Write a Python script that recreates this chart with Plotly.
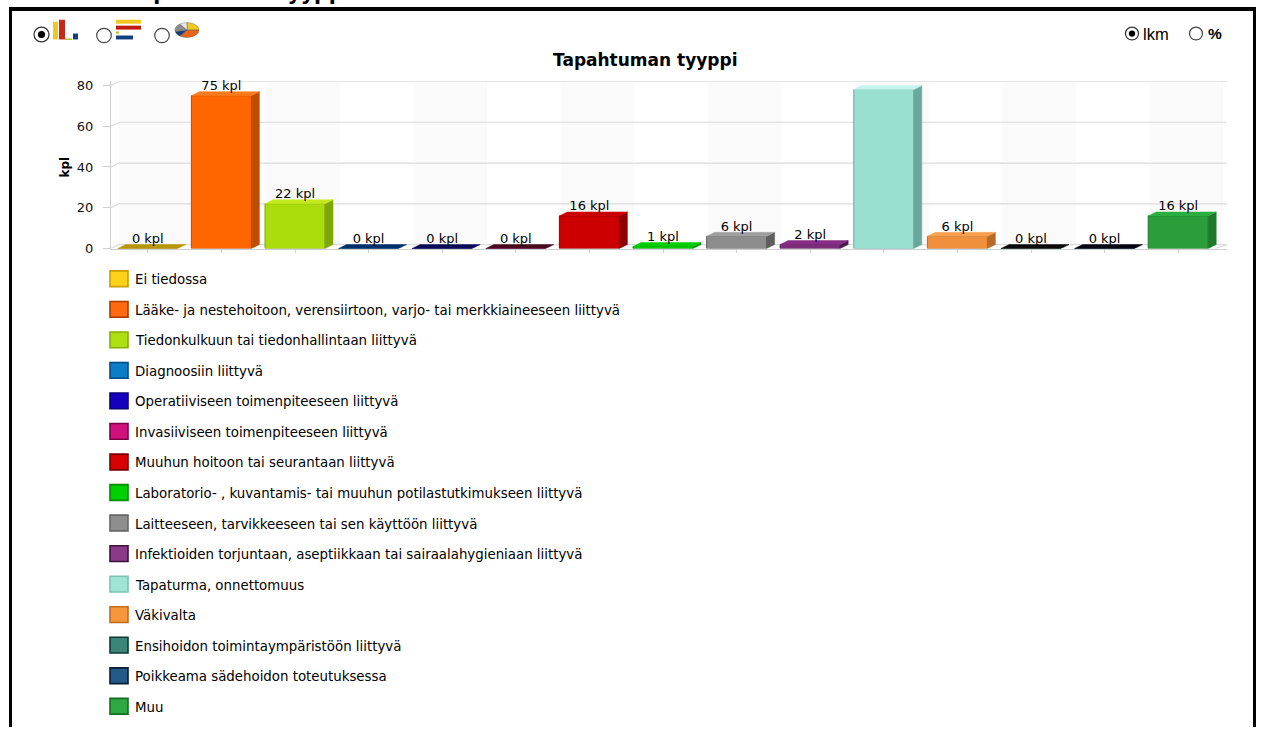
import math
import plotly.graph_objects as go

# ---------- data ----------
categories = [
    "Ei tiedossa",
    "Lääke- ja nestehoitoon, verensiirtoon, varjo- tai merkkiaineeseen liittyvä",
    "Tiedonkulkuun tai tiedonhallintaan liittyvä",
    "Diagnoosiin liittyvä",
    "Operatiiviseen toimenpiteeseen liittyvä",
    "Invasiiviseen toimenpiteeseen liittyvä",
    "Muuhun hoitoon tai seurantaan liittyvä",
    "Laboratorio- , kuvantamis- tai muuhun potilastutkimukseen liittyvä",
    "Laitteeseen, tarvikkeeseen tai sen käyttöön liittyvä",
    "Infektioiden torjuntaan, aseptiikkaan tai sairaalahygieniaan liittyvä",
    "Tapaturma, onnettomuus",
    "Väkivalta",
    "Ensihoidon toimintaympäristöön liittyvä",
    "Poikkeama sädehoidon toteutuksessa",
    "Muu",
]
values = [0, 75, 22, 0, 0, 0, 16, 1, 6, 2, 78, 6, 0, 0, 16]
y_ticks = [0, 20, 40, 60, 80]
unit = "kpl"
title = "Tapahtuman tyyppi"

# ---------- styles ----------
front_colors = ["#FFCC00", "#FF6600", "#AADD0B", "#0070C0", "#1100BB", "#C00070", "#CC0000", "#00CC00",
                "#8C8C8C", "#7B2C7B", "#99E0D0", "#F0903C", "#2F7A6E", "#1F4E7A", "#2B9E3B"]
side_colors = ["#B8960C", "#BF4D00", "#7FA608", "#00447A", "#0A0070", "#700042", "#8F0000", "#009000",
               "#5E5E5E", "#4A1A4A", "#6BA89C", "#B86A28", "#103028", "#08182A", "#1C7A2A"]
top_colors = ["#B8960C", "#FF7A1A", "#C4E81E", "#00306A", "#0A0A55", "#4A0A1E", "#CC0000", "#00CC00",
              "#A0A0A0", "#8A2D86", "#C4F5EC", "#F7A050", "#0A0A0A", "#050510", "#2BAE40"]
swatch_edges = ["#C9A000", "#A83A00", "#86AE06", "#004A85", "#0A0075", "#7A0048", "#7A0000", "#008A00",
                "#666666", "#3E123E", "#7CC4B4", "#C06C20", "#0E3A34", "#0A1C36", "#126E22"]
swatch_fills = ["#FFD21A", "#FF6A10", "#AEDF10", "#0A7CC8", "#1500C0", "#D0107C", "#D80000", "#00D000",
                "#8E8E8E", "#8A3A86", "#A0E4D6", "#F8963E", "#3A8478", "#245A88", "#2EA840"]
FONT = "DejaVu Sans"
W, H = 1262, 730
GRID = "#DCDCDC"
BAND = "#FAFAFA"

# ---------- geometry ----------
X0, X1 = 111, 1227          # plot width in pixels
Y_BASE, PX_PER_UNIT = 249.3, 2.07
Y_MAX = 82
CAT_PX = 73.6
x_max = -0.5 + (X1 - X0) / CAT_PX
DX = 8 / CAT_PX             # 3D depth in x data units
DY = 4 / PX_PER_UNIT        # 3D depth in y data units
BAR_W = 60 / CAT_PX


def px(x):
    return x / W


def py(y):
    return 1 - y / H


shapes, annotations = [], []


def rect(x0, y0, x1, y1, fill, line=None, lw=0):
    shapes.append(dict(type="rect", xref="paper", yref="paper", x0=px(x0), x1=px(x1), y0=py(y0), y1=py(y1),
                       fillcolor=fill, line=dict(color=line or fill, width=lw), layer="above"))


def circle(cx, cy, r, fill, line, lw=1.2):
    shapes.append(dict(type="circle", xref="paper", yref="paper", x0=px(cx - r), x1=px(cx + r),
                       y0=py(cy + r), y1=py(cy - r), fillcolor=fill, line=dict(color=line, width=lw), layer="above"))


def text(x, y, s, size, anchor="left", bold=False, family=FONT, angle=0, color="#000000"):
    annotations.append(dict(xref="paper", yref="paper", x=px(x), y=py(y), text=f"<b>{s}</b>" if bold else s,
                            showarrow=False, xanchor=anchor, yanchor="middle", textangle=angle,
                            font=dict(family=family, size=size, color=color)))


# alternate background bands on the back wall
for i in range(0, len(categories), 2):
    shapes.append(dict(type="rect", xref="x", yref="y", x0=i - 0.5 + DX, x1=min(i + 0.5 + DX, x_max),
                       y0=DY, y1=Y_MAX, fillcolor=BAND, line=dict(width=0), layer="below"))
# grid lines on the back wall, with the slanted part at the left wall
for t in y_ticks:
    shapes.append(dict(type="path", xref="x", yref="y", layer="below", line=dict(color=GRID, width=1.2),
                       path=f"M -0.5 {t} L {-0.5 + DX} {t + DY} L {x_max} {t + DY}"))
shapes.append(dict(type="line", xref="x", yref="y", x0=14.5, x1=x_max, y0=0, y1=DY, layer="below",
                   line=dict(color=GRID, width=1.2)))

fig = go.Figure()
fig.add_trace(go.Bar(
    x=list(range(len(values))), y=values, width=BAR_W,
    marker=dict(color=front_colors, line=dict(color=side_colors, width=1)),
    hovertext=categories, hoverinfo="text+y", showlegend=False,
))

for i, v in enumerate(values):
    left, right = i - BAR_W / 2, i + BAR_W / 2
    if v > 0:
        fig.add_trace(go.Scatter(
            x=[right, right + DX, right + DX, right, right], y=[0, DY, v + DY, v, 0],
            mode="lines", fill="toself", fillcolor=side_colors[i], line=dict(color=side_colors[i], width=0.5),
            hoverinfo="skip", showlegend=False))
    fig.add_trace(go.Scatter(
        x=[left, right, right + DX, left + DX, left], y=[v, v, v + DY, v + DY, v],
        mode="lines", fill="toself", fillcolor=top_colors[i], line=dict(color=top_colors[i], width=0.5),
        hoverinfo="skip", showlegend=False))

fig.add_trace(go.Scatter(
    x=list(range(len(values))), y=[v + DY + 5 / PX_PER_UNIT for v in values],
    mode="text", text=[f"{v} {unit}" for v in values], textposition="middle center",
    textfont=dict(family=FONT, size=13, color="#000000"), hoverinfo="skip", showlegend=False, cliponaxis=False))

# legend rows
for i, name in enumerate(categories):
    yc = 280 + 31 * i
    rect(110, yc - 8, 128, yc + 8, swatch_fills[i], swatch_edges[i], 1.6)
    text(132.5, yc + 1, name, 13.35)

# frame and the cropped heading above it
rect(9, 4, 12, H + 5, "#000000")
rect(9, 4, 1256, 8, "#000000")
rect(1253, 4, 1256, H + 5, "#000000")
text(126, -10, title, 20.5, bold=True, color="#000000")

# chart title and axis title
text(645, 58, title, 17, anchor="center", bold=True)
text(65, 167, unit, 12, anchor="center", bold=True, angle=-90, color="#000000")

# chart-type selectors
circle(41.5, 32, 7.5, "#FFFFFF", "#333333")
circle(41.5, 32, 3.6, "#000000", "#000000", 0)
circle(104, 33, 7.3, "#FFFFFF", "#444444")
circle(162, 33, 7.3, "#FFFFFF", "#444444")
rect(53, 19, 58, 37, "#F2C81E")
rect(59, 17, 65, 37, "#C8281A")
rect(65, 36, 72, 37.5, "#A8C820")
rect(73, 31, 78, 37, "#123F80")
rect(116, 17, 141, 21, "#F2C81E")
rect(116, 23, 141, 27, "#C01A10")
rect(116, 29, 119, 31, "#A8C820")
rect(116, 33, 133, 37, "#123F80")
pie_colors = ["#F2C81E", "#E8641A", "#123F80", "#8C8C8C", "#E8E8E8"]
pie_shares = [0.25, 0.35, 0.12, 0.18, 0.10]
start = -math.pi / 2
for color, share in zip(pie_colors, pie_shares):
    pts = [(187 + 12 * math.cos(start + share * 2 * math.pi * k / 8),
            27.5 + 7.5 * math.sin(start + share * 2 * math.pi * k / 8)) for k in range(9)]
    path = f"M {px(187)} {py(27.5)} " + " ".join(f"L {px(a)} {py(b)}" for a, b in pts) + " Z"
    shapes.append(dict(type="path", xref="paper", yref="paper", path=path, fillcolor=color,
                       line=dict(color="#555555", width=0.4), layer="above"))
    start += share * 2 * math.pi

# lkm / % selectors
circle(1132, 31, 6.5, "#FFFFFF", "#333333")
circle(1132, 31, 3.2, "#000000", "#000000", 0)
circle(1196, 31, 6.5, "#FFFFFF", "#444444")
text(1141, 31, "lkm", 16.5, family="Liberation Sans", color="#000000")
text(1206, 31, "%", 15.5, bold=True, family="Liberation Sans", color="#000000")

fig.update_layout(
    width=W, height=H, margin=dict(l=0, r=0, t=0, b=0),
    paper_bgcolor="#FFFFFF", plot_bgcolor="#FFFFFF",
    barmode="overlay", showlegend=False, shapes=shapes, annotations=annotations,
    font=dict(family=FONT, color="#111111"),
    xaxis=dict(domain=[px(X0), px(X1)], range=[-0.5, x_max], tickmode="array",
               tickvals=list(range(len(values))), ticktext=[""] * len(values), ticks="outside", ticklen=3,
               tickcolor="#D0D0D0", showgrid=False, zeroline=False, showline=True, linecolor="#CFCFCF", linewidth=1),
    yaxis=dict(domain=[py(Y_BASE), py(Y_BASE - Y_MAX * PX_PER_UNIT)], range=[0, Y_MAX], tickmode="array",
               tickvals=y_ticks, ticks="outside", ticklen=7, tickcolor="#CFCFCF",
               tickfont=dict(family=FONT, size=13, color="#111111"), ticklabelstandoff=7,
               showgrid=False, zeroline=False, showline=True, linecolor="#CFCFCF", linewidth=1),
)

fig.write_html("out.html", config=dict(displayModeBar=False),
               post_script="document.body.style.margin='0';document.documentElement.style.overflow='hidden';")
